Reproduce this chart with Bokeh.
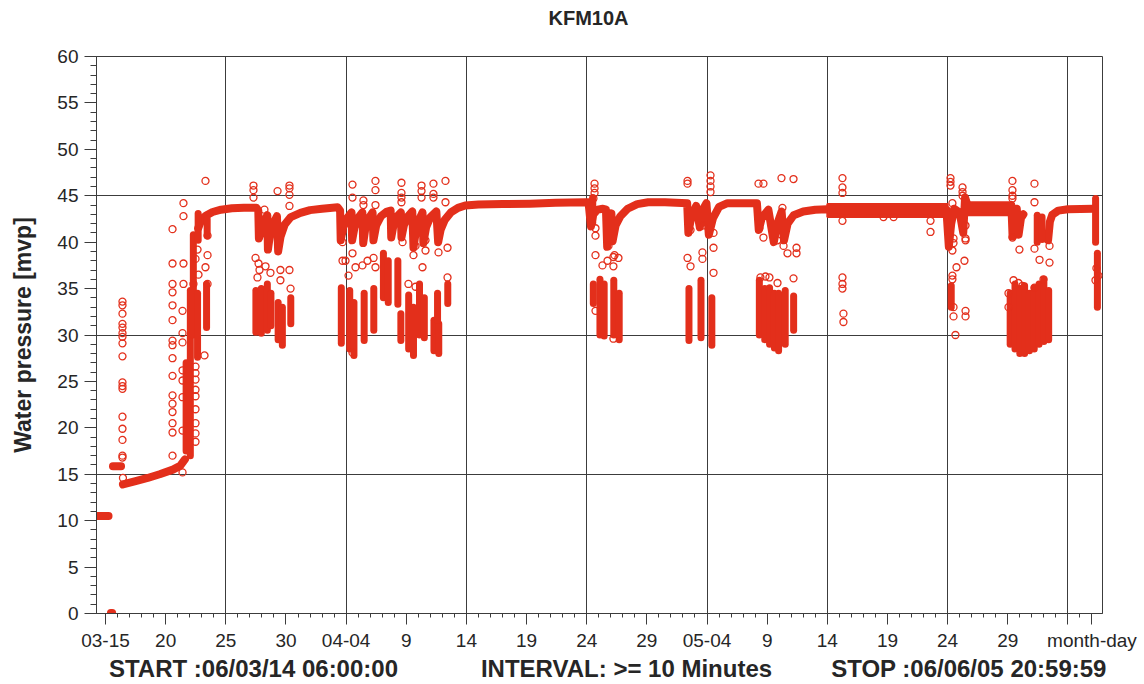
import math

from bokeh.plotting import figure
from bokeh.models import FixedTicker, LinearAxis, Range1d
from bokeh.embed import file_html
from bokeh.resources import INLINE

# ---------------------------------------------------------------------------
# KFM10A water pressure log, 2006-03-14 06:00 .. 2006-06-05 21:00.
# Time axis: days since 2006-03-14 00:00 (1 = 03-15, 21 = 04-04, 51 = 05-04, 81 = 06-03).
# ---------------------------------------------------------------------------

tick_days = [1, 6, 11, 16, 21, 26, 31, 36, 41, 46, 51, 56, 61, 66, 71, 76, 81, 83]
tick_labels = ["03-15", "20", "25", "30", "04-04", "9", "14", "19", "24", "29",
               "05-04", "9", "14", "19", "24", "29", "", "month-day"]
grid_days = [11, 21, 31, 41, 51, 61, 71, 81]
grid_mvp = [15, 30, 45]

# heading above the plot, centred on this day
heading_day = [41.15]
heading_text = ["KFM10A"]

# footer line under the time axis, centred on these days
footer_days = [13.30, 44.31, 72.78]
footer_texts = ["START :06/03/14 06:00:00", "INTERVAL: >= 10 Minutes", "STOP :06/06/05 20:59:59"]

# Continuous logger trace (dense 10-minute readings); None separates gaps.
trace = [
    (0.25, 10.5), (1.25, 10.5), None,
    (1.45, 0.05), (1.55, 0.05), None,
    (1.62, 15.85), (2.29, 15.85), None,
    (2.45, 13.9), (3.5, 14.25), (4.5, 14.6), (5.5, 15.0), (6.6, 15.5), (7.2, 15.9), (7.6, 16.6), None,
    (8.7, 41.5), (9.0, 42.5), (9.4, 42.9), (9.9, 43.25), (10.6, 43.5), (11.5, 43.65), (12.5, 43.7),
    (13.55, 43.7), (13.7, 43.4), (13.75, 40.4), (13.95, 41.2), (14.2, 42.3), (14.45, 42.9),
    (14.5, 39.2), (14.65, 40.6), (14.95, 42.0), (15.25, 42.8), (15.35, 39.0), (15.55, 40.6),
    (15.9, 41.9), (16.4, 42.7), (17.2, 43.15), (18.0, 43.45), (19.0, 43.6), (20.3, 43.75),
    (20.5, 43.4), (20.55, 40.2), (20.75, 41.6), (21.1, 42.6), (21.45, 43.2), (21.5, 40.2),
    (21.7, 41.6), (22.0, 42.6), (22.35, 43.2), (22.42, 39.9), (22.6, 41.5), (22.9, 42.6),
    (23.2, 43.2), (23.27, 40.2), (23.5, 41.8), (23.9, 42.8), (24.4, 43.3), (24.7, 43.4),
    (24.75, 40.5), (24.95, 41.9), (25.25, 42.8), (25.55, 43.2), (25.6, 40.5), (25.8, 41.8),
    (26.15, 42.8), (26.5, 43.3), (26.6, 39.4), (26.8, 41.2), (27.1, 42.5), (27.35, 43.2),
    (27.42, 39.9), (27.65, 41.6), (28.0, 42.7), (28.5, 43.3), (28.65, 40.0), (28.85, 41.3),
    (29.2, 42.4), (29.7, 43.2), (30.3, 43.7), (30.9, 43.95), (32.0, 44.05), (34.0, 44.1),
    (36.3, 44.15), (38.4, 44.25), (40.9, 44.3), (41.15, 44.3), (41.35, 41.7), (41.55, 43.0),
    (41.9, 43.5), (42.35, 43.6), (42.6, 43.5), (42.7, 39.5), (42.85, 41.6), (43.05, 43.1),
    (43.15, 40.1), (43.4, 41.8), (43.8, 42.8), (44.4, 43.6), (45.2, 44.1), (46.1, 44.3),
    (47.5, 44.3), (49.35, 44.2), (49.45, 41.0), (49.7, 42.8), (50.1, 43.9), (50.4, 41.6),
    (50.65, 43.5), (50.95, 44.2), (51.15, 40.8), (51.5, 42.6), (52.0, 43.8), (52.7, 44.2),
    (55.15, 44.2), (55.3, 41.3), (55.55, 42.6), (56.1, 43.5), (56.55, 40.0), (56.85, 42.0),
    (57.2, 43.3), (57.4, 40.2), (57.7, 42.0), (58.2, 42.9), (59.0, 43.3), (60.0, 43.5),
    (61.0, 43.55), (64.0, 43.35), (67.5, 43.4), (70.9, 43.5), (71.1, 39.5), (71.3, 42.0),
    (71.55, 43.6), (72.0, 43.2), (72.3, 41.0), (72.45, 44.8), (72.7, 43.8), (74.0, 43.65),
    (76.1, 43.6), (76.3, 44.0), (76.4, 40.6), (76.6, 42.6), (76.75, 43.6), (76.9, 40.8),
    (77.1, 42.6), (77.3, 43.0), None,
    (79.35, 40.2), (79.5, 42.2), (79.7, 42.95), (80.2, 43.4), (81.0, 43.55), (83.1, 43.6),
]

# Noisier stretches of the trace: (start day, end day, low, high)
noisy_start = [61.0, 72.7]
noisy_end = [71.0, 76.1]
noisy_lo = [42.7, 42.9]
noisy_hi = [44.1, 44.3]

# Dense vertical clusters of readings: (day, lowest, highest)
clusters = [
    (7.7, 17.5, 27.0), (8.05, 17.0, 34.8), (8.3, 30.0, 40.8), (8.65, 27.6, 34.5),
    (8.7, 40.2, 43.1), (9.4, 30.8, 35.5), (9.45, 40.7, 42.5),
    (13.5, 30.3, 34.8), (13.95, 30.2, 35.0), (14.45, 30.5, 35.5), (14.75, 31.0, 34.5),
    (15.35, 29.5, 33.5), (15.7, 28.9, 33.0), (16.4, 31.2, 34.0),
    (20.6, 29.1, 35.1), (21.3, 28.5, 34.8), (21.65, 27.8, 33.5), (22.5, 29.4, 34.5),
    (23.3, 30.5, 35.0), (24.1, 34.0, 38.8), (24.5, 33.5, 38.0), (25.3, 33.3, 38.0),
    (25.55, 29.4, 32.3), (26.2, 28.5, 34.3), (26.6, 27.8, 33.0), (27.1, 30.0, 35.5),
    (27.5, 29.7, 34.0), (28.3, 28.3, 31.6), (28.7, 28.0, 31.2), (28.6, 31.6, 34.5),
    (29.45, 33.4, 35.5),
    (41.5, 42.1, 44.8), (41.55, 33.4, 35.5), (42.1, 30.0, 36.0), (42.45, 29.9, 35.5),
    (43.25, 30.0, 35.9), (43.7, 29.5, 34.5),
    (49.5, 29.4, 35.0), (50.5, 29.7, 35.9), (51.4, 28.9, 34.0),
    (55.35, 30.0, 35.9), (55.8, 29.5, 35.0), (56.2, 29.0, 35.1), (56.6, 28.6, 34.5),
    (56.95, 28.3, 34.5), (57.5, 29.0, 34.8), (58.2, 30.5, 34.2),
    (71.3, 33.0, 35.3),
    (76.2, 29.0, 34.5), (76.6, 28.5, 35.5), (77.0, 28.0, 35.0), (77.4, 28.0, 35.3),
    (77.8, 28.3, 34.5), (78.2, 28.5, 35.1), (78.6, 29.0, 35.5), (79.0, 29.3, 36.0),
    (79.4, 29.5, 34.8), (78.45, 40.0, 42.9), (78.85, 40.3, 42.7),
    (83.3, 40.0, 44.7), (83.45, 33.0, 38.8),
]

# Isolated readings: (day, mvp)
readings = [
    (2.41, 33.6), (2.41, 33.2), (2.41, 32.3), (2.41, 31.2), (2.41, 30.8), (2.41, 30.2),
    (2.41, 29.8), (2.41, 29.1), (2.41, 27.7), (2.41, 24.9), (2.41, 24.5), (2.41, 24.2),
    (2.41, 21.2), (2.41, 19.9), (2.41, 18.7), (2.41, 17.0), (2.41, 16.8), (2.45, 14.6),
    (6.57, 41.4), (6.57, 37.7), (6.57, 35.5), (6.57, 34.6), (6.57, 33.2), (6.57, 31.6),
    (6.57, 29.4), (6.57, 28.9), (6.57, 27.5), (6.57, 25.6), (6.57, 23.5), (6.57, 22.6),
    (6.57, 21.7), (6.57, 20.5), (6.57, 19.5), (6.57, 17.0),
    (7.48, 44.2), (7.48, 42.8), (7.48, 37.7), (7.48, 35.5), (7.40, 32.6), (7.40, 30.2),
    (7.40, 29.2), (7.40, 26.2), (7.40, 25.1), (7.40, 23.3), (7.40, 19.7), (7.40, 15.2),
    (8.48, 38.2), (8.48, 26.6), (8.48, 25.9), (8.48, 25.2), (8.48, 24.1), (8.48, 23.4),
    (8.48, 22.0), (8.48, 20.5), (8.48, 19.4), (8.48, 18.5),
    (8.31, 35.5), (8.73, 36.5), (8.65, 39.2), (9.31, 46.6), (9.31, 37.3), (9.48, 38.6),
    (9.48, 35.5), (9.48, 40.7), (9.23, 27.8),
    (13.30, 46.1), (13.30, 45.6), (13.30, 44.8), (13.47, 38.3), (13.72, 37.7), (13.80, 37.0),
    (13.63, 36.2), (14.21, 43.5), (14.30, 37.4), (14.71, 36.7), (15.30, 45.5),
    (16.29, 46.1), (16.29, 45.8), (16.29, 45.1), (16.29, 43.9), (16.29, 37.0), (16.38, 35.0),
    (15.54, 37.0), (15.54, 35.9),
    (20.70, 38.0), (20.70, 40.0), (20.70, 41.1), (20.95, 38.0),
    (21.53, 46.2), (21.53, 44.8), (21.53, 38.8), (21.53, 28.1), (21.78, 37.3), (21.20, 36.4),
    (22.36, 37.5), (22.44, 44.5), (22.44, 44.0), (22.78, 38.0), (23.28, 38.3), (23.44, 46.6),
    (23.44, 45.6), (23.44, 44.0), (23.44, 37.3),
    (25.60, 46.4), (25.60, 45.3), (25.60, 44.8), (25.60, 44.3), (25.69, 40.0), (26.18, 35.5),
    (26.60, 38.6), (26.77, 35.2), (26.77, 39.6), (27.27, 46.1), (27.27, 45.5), (27.27, 44.8),
    (27.35, 37.3), (27.60, 39.1), (27.60, 40.2), (28.26, 46.3), (28.26, 45.2), (28.26, 44.8),
    (28.68, 38.9), (29.26, 46.6), (29.26, 44.3), (29.43, 36.2), (29.43, 39.4),
    (41.65, 46.3), (41.65, 45.8), (41.65, 45.3), (41.56, 44.7), (41.73, 41.5), (41.73, 40.7),
    (41.73, 38.6), (41.73, 32.6), (42.31, 37.5), (42.73, 38.0), (43.22, 38.4), (43.22, 37.4),
    (43.22, 29.6), (42.81, 39.6), (43.31, 38.6), (43.64, 38.3),
    (49.38, 46.6), (49.38, 46.3), (49.38, 38.3), (49.63, 41.3), (49.63, 37.4), (50.62, 38.9),
    (50.62, 38.2), (50.71, 41.8), (51.29, 47.2), (51.29, 46.6), (51.29, 46.0), (51.29, 45.4),
    (51.54, 39.4), (51.54, 41.0), (51.54, 36.7),
    (55.28, 46.3), (55.69, 46.3), (55.36, 41.5), (55.69, 40.5), (55.44, 36.2), (55.86, 36.3),
    (56.19, 36.2), (56.86, 40.2), (56.86, 35.6), (57.19, 46.9), (57.27, 43.7), (57.36, 39.6),
    (57.69, 38.8), (58.19, 46.8), (58.19, 36.1), (58.44, 38.8), (58.44, 39.4),
    (62.26, 46.9), (62.26, 45.9), (62.26, 45.3), (62.26, 42.3), (62.26, 36.2), (62.26, 35.5),
    (62.26, 35.0), (62.34, 32.3), (62.34, 31.4),
    (65.67, 42.7), (66.51, 42.7), (69.58, 42.3), (69.58, 41.1),
    (71.24, 46.9), (71.24, 46.5), (71.24, 46.1), (72.24, 45.9), (72.24, 45.4), (72.24, 45.0),
    (71.40, 44.2), (71.40, 39.1), (71.40, 36.4), (71.40, 36.0), (71.49, 40.4), (71.49, 39.9),
    (71.49, 33.0), (71.49, 32.0), (72.49, 41.8), (72.49, 40.4), (72.49, 40.2), (72.49, 32.6),
    (72.49, 32.0), (72.40, 38.0), (71.74, 37.3), (71.65, 30.0),
    (76.06, 34.5), (76.06, 33.0),
    (76.39, 46.6), (76.39, 45.6), (76.39, 45.0), (76.39, 44.7), (76.39, 40.5), (76.97, 39.2),
    (78.22, 46.3), (78.22, 44.3), (78.22, 39.3), (78.22, 35.1), (78.64, 38.1), (79.47, 37.8),
    (79.47, 39.6), (76.48, 35.9), (76.89, 35.6), (77.22, 35.3), (78.97, 36.0),
    (83.37, 37.2), (83.54, 36.4), (83.29, 35.9),
]

RED = "#e32f1b"
INK = "#262626"
RULE = "#3c3c3c"
FONT = "Liberation Sans"

trace_day = [pt[0] if pt else math.nan for pt in trace]
trace_mvp = [pt[1] if pt else math.nan for pt in trace]
cl_day = [c[0] for c in clusters]
cl_lo = [c[1] for c in clusters]
cl_hi = [c[2] for c in clusters]
rd_day = [r[0] for r in readings]
rd_mvp = [r[1] for r in readings]

p = figure(width=1144, height=684, output_backend="svg", toolbar_location=None,
           x_range=Range1d(0.25, 83.875), y_range=Range1d(0, 60),
           min_border_left=96, min_border_right=42, min_border_top=56,
           min_border_bottom=71, title=None)
p.background_fill_color = "white"
p.border_fill_color = "white"
p.outline_line_color = RULE
p.outline_line_width = 1

# axes
p.xaxis.ticker = FixedTicker(ticks=tick_days, minor_ticks=list(range(1, 84)))
p.xaxis.major_label_overrides = {d: lab for d, lab in zip(tick_days, tick_labels)}
p.yaxis.ticker = FixedTicker(ticks=list(range(0, 61, 5)), minor_ticks=list(range(0, 61)))
for ax in (p.xaxis[0], p.yaxis[0]):
    ax.axis_line_color = RULE
    ax.major_tick_line_color = RULE
    ax.minor_tick_line_color = RULE
    ax.major_tick_in = 0
    ax.minor_tick_in = 0
    ax.major_label_text_font = FONT
    ax.major_label_text_font_size = "19px"
    ax.major_label_text_color = INK
p.xaxis.major_tick_out = 11
p.xaxis.minor_tick_out = 4
p.xaxis.major_label_standoff = 5
p.yaxis.major_tick_out = 12
p.yaxis.minor_tick_out = 6
p.yaxis.major_label_standoff = 6
p.yaxis.axis_label = "Water pressure [mvp]"
p.yaxis.axis_label_text_font = FONT
p.yaxis.axis_label_text_font_size = "23px"
p.yaxis.axis_label_text_font_style = "bold"
p.yaxis.axis_label_text_color = INK
p.yaxis.axis_label_standoff = 18


def text_axis(days, texts, size, standoff):
    """A tick-less axis whose only content is bold text at the given days."""
    return LinearAxis(ticker=FixedTicker(ticks=days, minor_ticks=[]),
                      major_label_overrides=dict(zip(days, texts)),
                      axis_line_color=None, major_tick_line_color=None,
                      minor_tick_line_color=None, major_tick_out=0, minor_tick_out=0,
                      major_label_standoff=standoff, major_label_text_font=FONT,
                      major_label_text_font_size=size,
                      major_label_text_font_style="bold",
                      major_label_text_color=INK)


p.add_layout(text_axis(heading_day, heading_text, "20px", 28), "above")
p.add_layout(text_axis(footer_days, footer_texts, "24px", 1), "below")

# grid
p.xgrid.ticker = FixedTicker(ticks=grid_days)
p.ygrid.ticker = FixedTicker(ticks=grid_mvp)
for g in (p.xgrid[0], p.ygrid[0]):
    g.grid_line_color = RULE
    g.grid_line_alpha = 1.0
    g.grid_line_width = 1

# data
p.quad(left=noisy_start, right=noisy_end, bottom=noisy_lo, top=noisy_hi,
       fill_color=RED, line_color=RED, line_width=2)
p.line(trace_day, trace_mvp, line_color=RED, line_width=8,
       line_cap="round", line_join="round")
p.segment(x0=cl_day, y0=cl_lo, x1=cl_day, y1=cl_hi, line_color=RED,
          line_width=7, line_cap="round")
p.scatter(rd_day, rd_mvp, marker="circle", size=7, fill_color=None,
          line_color=RED, line_width=1.3)

open("out.html", "w").write(file_html(p, INLINE))
